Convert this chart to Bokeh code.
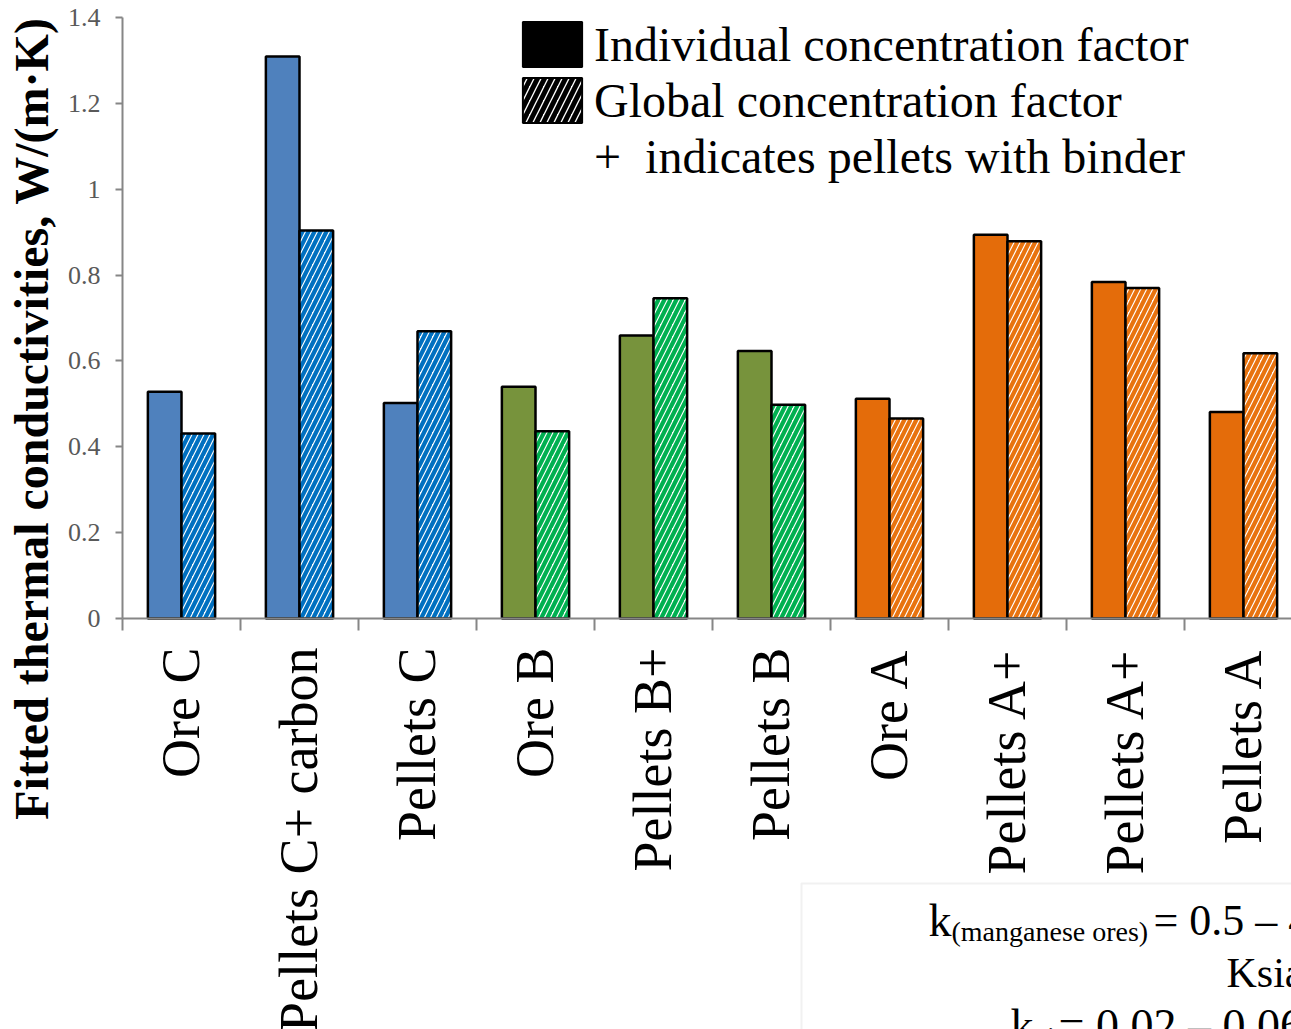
import math
from bokeh.plotting import figure
from bokeh.models import (ColumnDataSource, FixedTicker, NumeralTickFormatter, Range1d,
                          Legend, LegendItem, Label, BoxAnnotation)
from bokeh.transform import dodge
from bokeh.embed import file_html
from bokeh.resources import INLINE

# ---------------- data ----------------
categories = ["Ore C", "Pellets C+ carbon", "Pellets C",
              "Ore B", "Pellets B+", "Pellets B",
              "Ore A", "Pellets A+", "Pellets A+", "Pellets A"]
individual = [0.528, 1.309, 0.502, 0.540, 0.659, 0.623, 0.512, 0.894, 0.784, 0.481]
global_factor = [0.431, 0.904, 0.669, 0.436, 0.746, 0.498, 0.466, 0.879, 0.770, 0.618]
groups = ["C", "C", "C", "B", "B", "B", "A", "A", "A", "A"]
y_ticks = [0, 0.2, 0.4, 0.6, 0.8, 1.0, 1.2, 1.4]
legend_labels = ["Individual concentration factor",
                 "Global concentration factor",
                 "+  indicates pellets with binder"]
ylabel = "Fitted thermal conductivities, W/(m\u00b7K)"

solid_colors = {"C": "#4F81BD", "B": "#77933C", "A": "#E46C0A"}
hatch_colors = {"C": "#0070C0", "B": "#00B050", "A": "#E8730F"}

FONT = "Liberation Serif"
GRAY = "#868686"

W, H = 1291, 1029
p = figure(width=W, height=H, output_backend="svg", toolbar_location=None,
           x_range=Range1d(-1.5339, 9.4068), y_range=Range1d(-0.9574, 1.4396),
           min_border=0)
p.outline_line_color = None
p.xgrid.visible = False
p.ygrid.visible = False
p.background_fill_color = "white"

src = ColumnDataSource(dict(
    x=list(range(len(categories))),
    ind=individual,
    glob=global_factor,
    fill=[solid_colors[g] for g in groups],
    hatch=[hatch_colors[g] for g in groups],
))

p.vbar(x=dodge("x", -0.1425, range=p.x_range), top="ind", bottom=0, width=0.285, source=src,
       fill_color="fill", line_color="black", line_width=2.5)
p.vbar(x=dodge("x", 0.1425, range=p.x_range), top="glob", bottom=0, width=0.285, source=src,
       fill_color="white", hatch_pattern="right_diagonal_line", hatch_color="hatch",
       hatch_scale=12, hatch_weight=4.2, line_color="black", line_width=2.5)

# legend proxies (hidden renderers, only used for the legend swatches)
r1 = p.vbar(x=[0], top=[0.1], width=0.1, fill_color="black", line_color="black",
            line_width=2, visible=False)
r2 = p.vbar(x=[0], top=[0.1], width=0.1, fill_color="white",
            hatch_pattern="right_diagonal_line", hatch_color="black", hatch_scale=14,
            hatch_weight=5, line_color="black", line_width=2, visible=False)
r3 = p.vbar(x=[0], top=[0.1], width=0.1, fill_alpha=0, line_alpha=0, visible=False)

legend = Legend(items=[LegendItem(label=legend_labels[0], renderers=[r1]),
                       LegendItem(label=legend_labels[1], renderers=[r2]),
                       LegendItem(label=legend_labels[2], renderers=[r3])],
                location=(515, 845), glyph_width=74, glyph_height=56, label_standoff=5,
                spacing=0, padding=0, margin=0, border_line_color=None,
                background_fill_alpha=0, inactive_fill_alpha=0,
                label_text_font=FONT, label_text_font_size="48px",
                label_text_color="black")
p.add_layout(legend)

# y axis
ya = p.yaxis[0]
ya.fixed_location = -0.5
ya.bounds = (0, 1.4)
ya.ticker = FixedTicker(ticks=y_ticks)
ya.formatter = NumeralTickFormatter(format="0.[0]")
ya.axis_line_color = GRAY
ya.axis_line_width = 2
ya.major_tick_line_color = GRAY
ya.major_tick_line_width = 2
ya.major_tick_out = 7
ya.major_tick_in = 0
ya.minor_tick_line_color = None
ya.major_label_text_font = FONT
ya.major_label_text_font_size = "26px"
ya.major_label_text_color = "#595959"
ya.major_label_standoff = 15

# x axis
xa = p.xaxis[0]
xa.fixed_location = 0
xa.bounds = (-0.5, 10)
xa.ticker = FixedTicker(ticks=list(range(len(categories))),
                        minor_ticks=[i - 0.5 for i in range(len(categories) + 1)])
xa.major_label_overrides = {i: c for i, c in enumerate(categories)}
xa.axis_line_color = GRAY
xa.axis_line_width = 2
xa.major_tick_line_color = None
xa.major_tick_out = 0
xa.major_tick_in = 0
xa.minor_tick_line_color = GRAY
xa.minor_tick_line_width = 2
xa.minor_tick_out = 12
xa.minor_tick_in = 0
xa.major_label_orientation = math.pi / 2
xa.major_label_standoff = 17
xa.major_label_text_font = FONT
xa.major_label_text_font_size = "54px"
xa.major_label_text_color = "black"

# y axis title
p.add_layout(Label(x=31, y=H - 418, x_units="screen", y_units="screen", text=ylabel,
                   angle=math.pi / 2, text_align="center", text_baseline="alphabetic",
                   text_font=FONT, text_font_style="bold", text_font_size="48px",
                   text_color="black"))

# text box at bottom right
p.add_layout(BoxAnnotation(left=801, right=1400, top=H - 883, bottom=-60,
                           left_units="screen", right_units="screen",
                           top_units="screen", bottom_units="screen",
                           fill_alpha=0, line_color="#CFCFCF", line_width=2))

def lab(x, y_img, t, size):
    p.add_layout(Label(x=x, y=H - (y_img - 15), x_units="screen", y_units="screen", text=t,
                       text_align="left", text_baseline="alphabetic",
                       text_font=FONT, text_font_size=size, text_color="black"))

lab(928, 935, "k", "46px")
lab(951, 946, "(manganese ores)", "28px")
lab(1153, 935, "= 0.5 \u2013 4", "44px")
lab(1226, 987, "Ksia", "42px")
lab(1010, 1040, "k", "46px")
lab(1034, 1051, "air", "28px")
lab(1058, 1040, "= 0.02 \u2013 0.06", "46px")

open("out.html", "w").write(file_html(p, INLINE))
